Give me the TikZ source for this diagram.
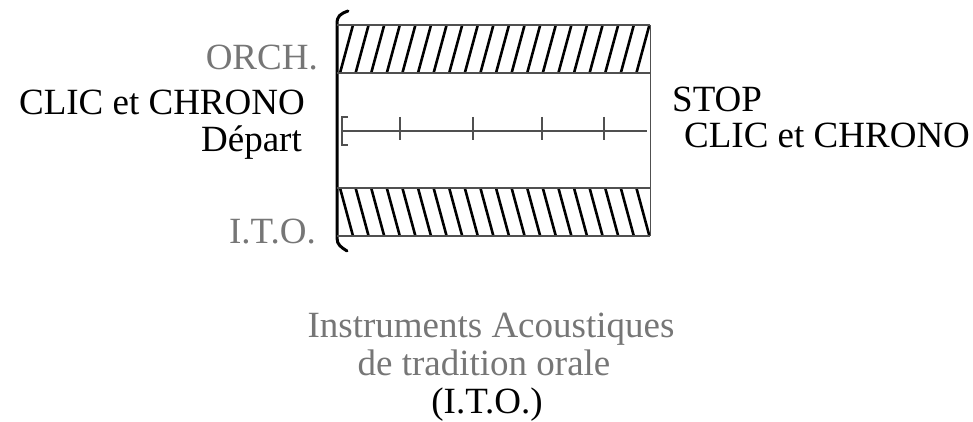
\documentclass[tikz,border=0pt]{standalone}
\usepackage{fontspec}
\setmainfont{Liberation Serif}
\definecolor{txtgray}{HTML}{767676}
\definecolor{linegray}{HTML}{505050}
\begin{document}
\begin{tikzpicture}[x=1pt,y=-1pt,
  lbl/.style={inner sep=0pt,font=\fontsize{37}{44}\selectfont},
  graylbl/.style={lbl,text=txtgray},
  band/.style={draw=linegray,line width=1.6pt},
  hatch/.style={line width=2.6pt,black},
  tick/.style={line width=1.2pt,linegray}]
\useasboundingbox (0,0) rectangle (973,422);
% left thick border with curls
\draw[line width=3pt,line cap=round] (348,11) .. controls (340,14) and (337,16) .. (337,24) -- (337,238) .. controls (337,245) and (341,247) .. (347,251);
% top hatched band
\begin{scope}
\clip (337,25) rectangle (650,73);
\foreach \i in {0,...,20} {
  \draw[hatch] ({340+15.6*\i},73) -- ({353+15.6*\i},25);
}
\end{scope}
\draw[band] (337,25) -- (650,25);
\draw[band] (337,73) -- (650,73);
% bottom hatched band
\begin{scope}
\clip (337,188) rectangle (650,236);
\foreach \i in {0,...,20} {
  \draw[hatch] ({340+15.6*\i},188) -- ({353+15.6*\i},236);
}
\end{scope}
\draw[band] (337,188) -- (650,188);
\draw[band] (337,236) -- (650,236);
% right edge
\draw[line width=1pt,linegray] (650,25) -- (650,236);
% middle time line
\draw[tick] (342,131) -- (647,131);
\draw[tick] (348,117) -- (342,117) -- (342,145) -- (348,145);
\foreach \x in {400,473,542,604} {
  \draw[tick] (\x,117) -- (\x,140);
}
% labels
\node[graylbl,anchor=base east] (orch) at (318,70) {ORCH.};
\node[lbl,anchor=base east] (clicl) at (305,115) {CLIC et CHRONO};
\node[lbl,anchor=base east] (depart) at (302,152) {Départ};
\node[graylbl,anchor=base east] (ito) at (316,243) {I.T.O.};
\node[lbl,anchor=base west] (stop) at (672,112) {STOP};
\node[lbl,anchor=base west] (clicr) at (684,148) {CLIC et CHRONO};
\node[graylbl,anchor=base] (cap1) at (491,337) {Instruments Acoustiques};
\node[graylbl,anchor=base] (cap2) at (484,375) {de tradition orale};
\node[lbl,anchor=base] (cap3) at (487,413) {(I.T.O.)};
\end{tikzpicture}
\end{document}
